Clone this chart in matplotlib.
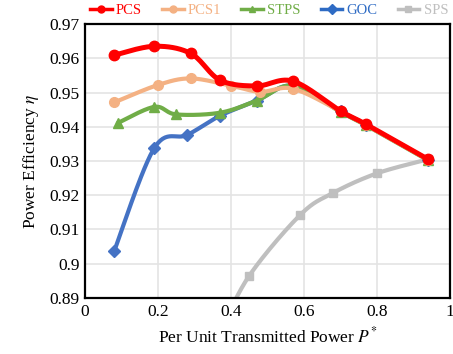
import numpy as np
import matplotlib
matplotlib.use("Agg")
import matplotlib.pyplot as plt
from matplotlib.lines import Line2D

plt.rcParams['font.family'] = ['Liberation Serif', 'DejaVu Serif']
plt.rcParams['mathtext.fontset'] = 'stix'

# Efficiency curves vs. per-unit transmitted power
pcs_x = [0.08, 0.19, 0.29, 0.37, 0.47, 0.57, 0.70, 0.77, 0.94]
pcs_y = [0.9609, 0.9635, 0.9614, 0.9536, 0.9519, 0.9533, 0.9446, 0.9407, 0.9305]

pcs1_x = [0.08, 0.20, 0.29, 0.40, 0.48, 0.57, 0.70, 0.77, 0.94]
pcs1_y = [0.9471, 0.9522, 0.9541, 0.9520, 0.9502, 0.9511, 0.9445, 0.9405, 0.9304]

stps_x = [0.09, 0.19, 0.25, 0.37, 0.47, 0.57, 0.70, 0.77, 0.94]
stps_y = [0.9411, 0.9458, 0.9436, 0.9441, 0.9476, 0.9520, 0.9443, 0.9404, 0.9302]

goc_x = [0.08, 0.19, 0.28, 0.37, 0.47, 0.57, 0.70, 0.77, 0.94]
goc_y = [0.9037, 0.9338, 0.9376, 0.9432, 0.9476, 0.9520, 0.9445, 0.9406, 0.9304]

sps_x = [0.37, 0.45, 0.59, 0.68, 0.80, 0.94]
sps_y = [0.8800, 0.8965, 0.9143, 0.9207, 0.9264, 0.9305]

series = ["PCS", "PCS1", "STPS", "GOC", "SPS"]
x_ticks = [0, 0.2, 0.4, 0.6, 0.8, 1]
y_ticks = [0.89, 0.90, 0.91, 0.92, 0.93, 0.94, 0.95, 0.96, 0.97]
y_labels = ["0.89", "0.9", "0.91", "0.92", "0.93", "0.94", "0.95", "0.96", "0.97"]


def smooth(xs, ys, n=30):
    """Bezier smoothing through the points (Catmull-Rom style tangents)."""
    p = np.column_stack([xs, ys]).astype(float)
    out = [p[0]]
    t = np.linspace(0, 1, n)[1:, None]
    for i in range(len(p) - 1):
        p0 = p[i - 1] if i > 0 else p[i]
        p1, p2 = p[i], p[i + 1]
        p3 = p[i + 2] if i + 2 < len(p) else p[i + 1]
        c1 = p1 + (p2 - p0) / 6.0
        c2 = p2 - (p3 - p1) / 6.0
        seg = ((1 - t) ** 3) * p1 + 3 * ((1 - t) ** 2) * t * c1 + 3 * (1 - t) * t ** 2 * c2 + t ** 3 * p2
        out.extend(seg)
    out = np.array(out)
    return out[:, 0], out[:, 1]


fig = plt.figure(figsize=(4.53, 3.54), dpi=100)
ax = fig.add_axes([0.1876, 0.1582, 0.8058, 0.774])

styles = [
    (sps_x, sps_y, "#BFBFBF", "s", 6, 3.0, 2),
    (goc_x, goc_y, "#4472C4", "D", 6, 3.0, 3),
    (stps_x, stps_y, "#70AD47", "^", 7.5, 3.0, 4),
    (pcs1_x, pcs1_y, "#F4B183", "o", 7, 3.0, 5),
    (pcs_x, pcs_y, "#FF0000", "o", 7.5, 3.6, 6),
]
for xs, ys, c, m, ms, lw, z in styles:
    sx, sy = smooth(xs, ys)
    ax.plot(sx, sy, color=c, lw=lw, zorder=z, solid_capstyle='round')
    ax.plot(xs, ys, ls='none', marker=m, ms=ms, color=c, mec=c, zorder=z, clip_on=True)

ax.set_xlim(0, 1)
ax.set_ylim(0.89, 0.97)
ax.set_xticks(x_ticks)
ax.set_xticklabels(["0", "0.2", "0.4", "0.6", "0.8", "1"])
ax.set_yticks(y_ticks)
ax.set_yticklabels(y_labels)
ax.tick_params(length=0, labelsize=12.5, pad=4)
ax.grid(True, color="#E4E4E4", lw=1.2, zorder=0)
ax.set_axisbelow(True)
for s in ax.spines.values():
    s.set_linewidth(1.6)
    s.set_color("black")
    s.set_zorder(10)

ax.set_xlabel(r"Per Unit Transmitted Power $\mathit{P}^{*}$", fontsize=12.5, labelpad=5)
ax.set_ylabel(r"Power Efficiency $\eta$", fontsize=12.5, labelpad=6)

# legend across the top
colors = ["#FF0000", "#F4B183", "#70AD47", "#2E6BC4", "#BFBFBF"]
markers = ["o", "o", "^", "D", "s"]
handles = [Line2D([], [], color=c, lw=2.5, marker=m, ms=5) for c, m in zip(colors, markers)]
leg = fig.legend(handles, series, loc="upper left", bbox_to_anchor=(0.185, 1.005), ncol=5,
                 frameon=False, fontsize=10.5, handlelength=1.5, handletextpad=0.3,
                 columnspacing=1.35, borderaxespad=0)
for txt, c in zip(leg.get_texts(), colors):
    txt.set_color(c)

fig.savefig("out.png", dpi=100)
